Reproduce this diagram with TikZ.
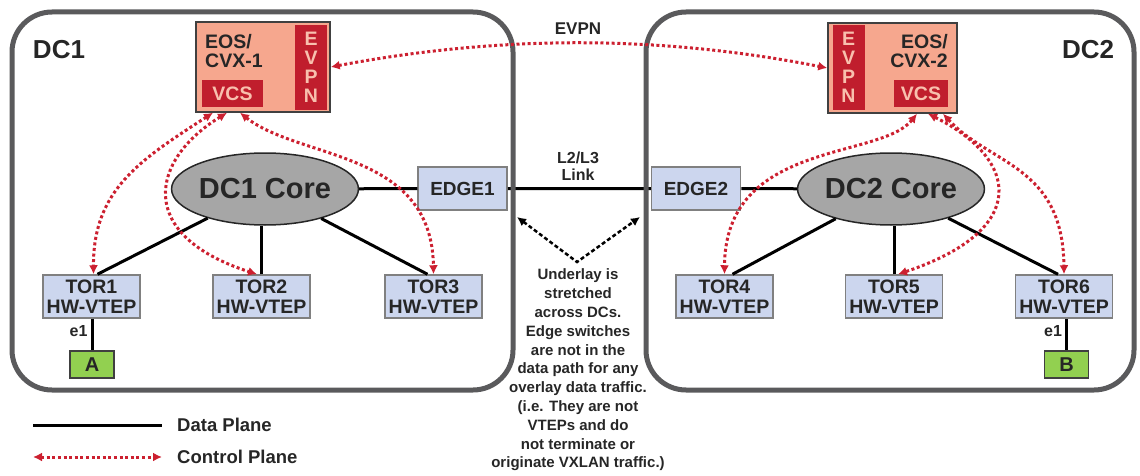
\documentclass[tikz,border=0pt]{standalone}
\usepackage{fontspec}
\setmainfont{Liberation Sans}
\usepackage{xcolor}
\usetikzlibrary{arrows.meta,shapes.geometric,positioning}
\definecolor{cFrame}{RGB}{90,90,92}
\definecolor{cText}{RGB}{38,38,38}
\definecolor{cSalmon}{RGB}{246,167,142}
\definecolor{cDarkRed}{RGB}{192,30,45}
\definecolor{cPink}{RGB}{248,192,174}
\definecolor{cBlue}{RGB}{204,214,238}
\definecolor{cBoxLine}{RGB}{128,128,128}
\definecolor{cCore}{RGB}{166,166,166}
\definecolor{cGreen}{RGB}{146,208,80}
\definecolor{cCtrl}{RGB}{204,32,48}
\newcommand{\setfs}[2]{\fontsize{#1}{#2}\selectfont\bfseries}
\tikzset{
  every node/.style={text=cText},
  dcframe/.style={draw=cFrame,line width=5pt,rounded corners=40pt},
  dclabel/.style={font=\setfs{26}{28}},
  cvxbox/.style={draw=black!75,line width=1.5pt,fill=cSalmon,minimum height=90pt,inner sep=0pt},
  evpnbar/.style={fill=cDarkRed,text=cPink,minimum width=32pt,minimum height=85pt,inner sep=0pt,align=center,font=\setfs{19.5}{19}},
  vcsbox/.style={fill=cDarkRed,text=cPink,minimum height=27pt,inner sep=0pt,font=\setfs{19.5}{20}},
  cvxtext/.style={inner sep=0pt,font=\setfs{19.5}{19.5}},
  coreell/.style={ellipse,draw=black!85,line width=1.5pt,fill=cCore,minimum width=176pt,minimum height=72pt,inner sep=0pt,font=\setfs{29}{30}},
  edgebox/.style={draw=cBoxLine,line width=1.5pt,fill=cBlue,minimum width=89pt,minimum height=43pt,inner sep=0pt,font=\setfs{19}{20}},
  torbox/.style={draw=cBoxLine,line width=1.5pt,fill=cBlue,minimum width=97pt,minimum height=43pt,inner sep=0pt,align=center,font=\setfs{19.5}{20}},
  hostbox/.style={draw=black!75,line width=1.2pt,fill=cGreen,minimum width=44pt,minimum height=27pt,inner sep=0pt,font=\setfs{20}{20}},
  dataline/.style={draw=black,line width=3pt},
  ctrl/.style={draw=cCtrl,line width=3pt,dash pattern=on 3pt off 2.6pt,{Latex[length=9pt,width=9pt,fill=cCtrl]}-{Latex[length=9pt,width=9pt,fill=cCtrl]}},
  underlayarrow/.style={draw=black,line width=2.5pt,dash pattern=on 4pt off 2.5pt,{Latex[length=9pt,width=9pt]}-{Latex[length=9pt,width=9pt]}},
  smalltext/.style={align=center,inner sep=0pt,font=\setfs{15}{18.8}},
  legendtext/.style={anchor=west,inner sep=0pt,font=\setfs{18.5}{20}}
}
\begin{document}
\begin{tikzpicture}[x=1pt,y=-1pt]
  \useasboundingbox (0,0) rectangle (1140,476);
  \node[dclabel] (dcA) at (59,50) {DC1};
  \node[dclabel] (dcB) at (1088,50) {DC2};
  % controllers
  \node[cvxbox,minimum width=134pt] (cvx1) at (263,67) {};
  \node[evpnbar] (evpn1) at (311,67.5) {E\\V\\P\\N};
  \node[vcsbox,minimum width=61pt] (vcs1) at (232.5,93.5) {VCS};
  \node[cvxtext,anchor=west,align=left] (eos1) at (205,51) {EOS/\\CVX-1};
  \node[cvxbox,minimum width=129pt] (cvx2) at (892.5,68) {};
  \node[evpnbar] (evpn2) at (848.5,67.5) {E\\V\\P\\N};
  \node[vcsbox,minimum width=54pt] (vcs2) at (921,93.5) {VCS};
  \node[cvxtext,anchor=east,align=right] (eos2) at (948,51) {EOS/\\CVX-2};
  % cores and edges
  \node[coreell] (core1) at (265,189) {DC1 Core};
  \node[coreell] (core2) at (891,189) {DC2 Core};
  \node[edgebox] (edge1) at (462.5,188.5) {EDGE1};
  \node[edgebox] (edge2) at (696,188.5) {EDGE2};
  \foreach \n/\x in {1/91.5,2/261.5,3/433.5,4/724.5,5/894,6/1064}
    \node[torbox] (tor\n) at (\x,296.5) {TOR\n\\HW-VTEP};
  \node[hostbox] (hostA) at (92,364.5) {A};
  \node[hostbox] (hostB) at (1066.5,364.5) {B};
  \node[smalltext,font=\setfs{16}{17}] (link) at (578,166.5) {L2/L3\\Link};
  \node[smalltext,font=\setfs{17}{18}] (evpnlbl) at (578,29) {EVPN};
  \node[smalltext] (underlay) at (578,370) {Underlay is\\stretched\\across DCs.\\Edge switches\\are not in the\\data path for any\\overlay data traffic.\\(i.e. They are not\\VTEPs and do\\not terminate or\\originate VXLAN traffic.)};
  % data plane
  \draw[dataline] (core1) -- ([xshift=6pt]tor1.north);
  \draw[dataline] (tor2.north) -- (tor2.north |- core1.south);
  \draw[dataline] (core1) -- ([xshift=-6pt]tor3.north);
  \draw[dataline] (core1) -- (edge1) -- (edge2) -- (core2);
  \draw[dataline] (core2) -- ([xshift=8pt]tor4.north);
  \draw[dataline] (tor5.north) -- (tor5.north |- core2.south);
  \draw[dataline] (core2) -- ([xshift=-6pt]tor6.north);
  \draw[dataline] (tor1.south -| hostA) -- node[left=3pt,pos=.4,inner sep=0pt,font=\setfs{16}{16}] {e1} (hostA);
  \draw[dataline] (tor6.south -| hostB) -- node[left=3pt,pos=.4,inner sep=0pt,font=\setfs{16}{16}] {e1} (hostB);
  % data centres
  \draw[dcframe] (12,12) rectangle (513,390);
  \draw[dcframe] (646,12) rectangle (1134,390);
  % control plane
  \draw[ctrl] (cvx1.east) .. controls (500,35) and (660,35) .. (cvx2.west);
  \draw[ctrl] ([xshift=-50pt]cvx1.south) .. controls (140,160) and (93,190) .. ([xshift=2pt]tor1.north);
  \draw[ctrl] ([xshift=-36pt]cvx1.south) .. controls (150,160) and (135,235) .. ([xshift=-4.5pt]tor2.north);
  \draw[ctrl] ([xshift=-23pt]cvx1.south) .. controls (300,160) and (432,150) .. (tor3.north);
  \draw[ctrl] ([xshift=24.5pt]cvx2.south) .. controls (880,160) and (725,140) .. (tor4.north);
  \draw[ctrl] ([xshift=35.5pt]cvx2.south) .. controls (1020,160) and (1030,230) .. ([xshift=4pt]tor5.north);
  \draw[ctrl] ([xshift=50.5pt]cvx2.south) .. controls (990,165) and (1063,165) .. (tor6.north);
  % underlay
  \coordinate (vee) at (577,262);
  \coordinate (dashL) at (517,217);
  \coordinate (dashR) at (640,217);
  \draw[underlayarrow] (dashL) -- (vee) -- (dashR);
  % legend
  \coordinate (lgA) at (33,425);
  \coordinate (lgB) at (162,425);
  \coordinate (lgC) at (33,457);
  \coordinate (lgD) at (162,457);
  \draw[dataline] (lgA) -- (lgB);
  \draw[ctrl] (lgC) -- (lgD);
  \node[legendtext] (lgData) at (177,425) {Data Plane};
  \node[legendtext] (lgCtrl) at (177,457) {Control Plane};
\end{tikzpicture}
\end{document}
